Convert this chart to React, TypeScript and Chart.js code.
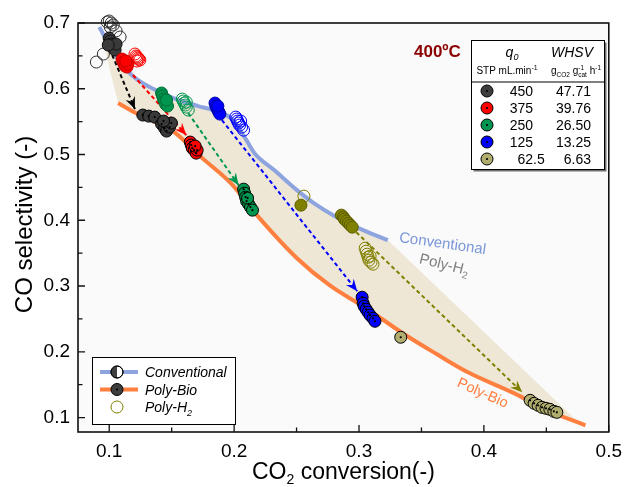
import React, { useEffect, useRef } from 'react';
import { Chart, registerables } from 'chart.js';

Chart.register(...registerables);

const FONT = '"Liberation Sans", Arial, Helvetica, sans-serif';

// ---- axes ----
const xRange = [0.075, 0.5];
const yRange = [0.078, 0.7];
const xMajorTicks = [0.1, 0.2, 0.3, 0.4, 0.5];
const xMinorTicks = [0.15, 0.25, 0.35, 0.45];
const yMajorTicks = [0.1, 0.2, 0.3, 0.4, 0.5, 0.6, 0.7];
const yMinorTicks = [0.15, 0.25, 0.35, 0.45, 0.55, 0.65];

// ---- trend curves ----
const conventionalCurve = [
  [0.0921, 0.6939], [0.1, 0.6665], [0.1095, 0.6391], [0.1198, 0.6178], [0.1372, 0.598],
  [0.1554, 0.5828], [0.1712, 0.5737], [0.1831, 0.5676], [0.1973, 0.5554], [0.2084, 0.5265],
  [0.2163, 0.5021], [0.2321, 0.4763], [0.2503, 0.4458], [0.2638, 0.426], [0.282, 0.4047],
  [0.3033, 0.3849], [0.3231, 0.3697],
];
const polyBioCurve = [
  [0.1071, 0.5782], [0.1214, 0.563], [0.1372, 0.5493], [0.153, 0.5326], [0.1736, 0.496],
  [0.1973, 0.4565], [0.2203, 0.4032], [0.2503, 0.3423], [0.2764, 0.3012], [0.3081, 0.2632],
  [0.335, 0.2282], [0.3611, 0.1977], [0.3872, 0.1688], [0.4244, 0.1368], [0.4505, 0.111],
  [0.4813, 0.0882],
];
const envelopeCorner = [0.4742, 0.0955];

// ---- 450 mL/min ----
const conv450 = [[0.1, 0.677], [0.1008, 0.6726], [0.1016, 0.668], [0.1024, 0.665], [0.1032, 0.6619], [0.1047, 0.6589], [0.1055, 0.668], [0.0992, 0.6665]];
const polyH2_450 = [[0.0984, 0.7015], [0.1, 0.703], [0.1016, 0.7], [0.1032, 0.697], [0.1008, 0.694], [0.1055, 0.688], [0.1087, 0.6787], [0.0953, 0.6528], [0.0897, 0.6406]];
const polyBio450 = [[0.1269, 0.56], [0.1316, 0.5584], [0.1364, 0.5569], [0.1419, 0.5463], [0.1443, 0.5402], [0.1459, 0.5356], [0.1483, 0.5417], [0.1498, 0.5478], [0.1435, 0.5508]];
// ---- 375 ----
const conv375 = [[0.1103, 0.6452], [0.1111, 0.6406], [0.1119, 0.6376], [0.1127, 0.6346], [0.1142, 0.633], [0.115, 0.6376], [0.1134, 0.6422]];
const polyH2_375 = [[0.1206, 0.6528], [0.1214, 0.6498], [0.1222, 0.6483], [0.123, 0.6467], [0.1237, 0.6452], [0.1245, 0.6437], [0.1222, 0.6422]];
const polyBio375 = [[0.1649, 0.5189], [0.1657, 0.5143], [0.1665, 0.5097], [0.168, 0.5067], [0.1696, 0.5021], [0.1704, 0.5067], [0.1688, 0.5128]];
// ---- 250 ----
const conv250 = [[0.1419, 0.5935], [0.1427, 0.5889], [0.1435, 0.5843], [0.1443, 0.5813], [0.1451, 0.5767], [0.1467, 0.5737], [0.1459, 0.5828]];
const polyH2_250 = [[0.1585, 0.5843], [0.1593, 0.5813], [0.1601, 0.5782], [0.1609, 0.5752], [0.1617, 0.5721], [0.1633, 0.5676], [0.1617, 0.5798]];
const polyBio250 = [[0.2076, 0.4473], [0.2084, 0.4413], [0.2092, 0.4352], [0.21, 0.4291], [0.2116, 0.4245], [0.2131, 0.42], [0.2147, 0.4154], [0.2108, 0.4337]];
// ---- 125 ----
const conv125 = [[0.1847, 0.5782], [0.1854, 0.5737], [0.1862, 0.5706], [0.187, 0.5676], [0.1878, 0.5645], [0.1886, 0.5615], [0.187, 0.5737]];
const polyH2_125 = [[0.2013, 0.5569], [0.2021, 0.5539], [0.2028, 0.5508], [0.2036, 0.5478], [0.2044, 0.5447], [0.206, 0.5417], [0.2076, 0.5371], [0.2052, 0.5508]];
const polyBio125 = [[0.3025, 0.283], [0.3033, 0.2738], [0.3041, 0.2693], [0.3057, 0.2647], [0.3073, 0.2601], [0.3089, 0.2556], [0.3112, 0.251], [0.3128, 0.2464]];
// ---- 62.5 ----
const conv62 = [[0.2535, 0.423], [0.2859, 0.4078], [0.2875, 0.4047], [0.2883, 0.4017], [0.2899, 0.3986], [0.2915, 0.3956], [0.293, 0.3925], [0.2946, 0.3895]];
const polyH2_62 = [[0.2559, 0.4367], [0.3049, 0.3575], [0.3057, 0.353], [0.3065, 0.3484], [0.3073, 0.3438], [0.308, 0.3393], [0.3096, 0.3362], [0.3112, 0.3332], [0.3089, 0.3454]];
const polyBio62 = [[0.3334, 0.2221], [0.437, 0.1262], [0.4402, 0.1216], [0.4434, 0.1186], [0.4465, 0.1155], [0.4497, 0.114], [0.4528, 0.1125], [0.456, 0.1094], [0.4584, 0.1079]];

// ---- dashed arrows (start, tip) ----
const arrow450 = [[0.1024, 0.6513], [0.1206, 0.5691]];
const arrow375 = [[0.119, 0.6209], [0.1617, 0.5295]];
const arrow250 = [[0.1633, 0.563], [0.2036, 0.4534]];
const arrow125 = [[0.1902, 0.5524], [0.2986, 0.2921]];
const arrow62 = [[0.2978, 0.3819], [0.4307, 0.1383]];

// ---- legend table ----
const legendFlows = ['450', '375', '250', '125', '62.5'];
const legendWhsv = ['47.71', '39.76', '26.50', '13.25', '6.63'];
const legendFill = ['#3d3d3d', '#ff0000', '#00964f', '#0000ff', '#b0ad6e'];

const C_BLUE = '#8da4de';
const C_ORANGE = '#ff7f3f';

const pts = (a: number[][]) => a.map(([x, y]) => ({ x, y }));

function curveDs(data: number[][], color: string) {
  return {
    data: pts(data), showLine: true, borderColor: color, backgroundColor: color, borderWidth: 4,
    pointRadius: 0, cubicInterpolationMode: 'monotone', fill: false, order: 50,
  };
}
function arrowDs(data: number[][], color: string) {
  return {
    data: pts(data), showLine: true, borderColor: color, backgroundColor: color, borderWidth: 2,
    borderDash: [4, 3], pointRadius: 0, order: 40, arrow: true, clip: false,
  };
}
function pointDs(data: number[][], fill: string, border: string, order: number, dotted = false) {
  return {
    data: pts(data), showLine: false, pointRadius: 6, pointBorderWidth: 1,
    pointBackgroundColor: fill, pointBorderColor: border, backgroundColor: fill, borderColor: border,
    order, clip: false, dotted,
  };
}

type Part = { t: string; size: number; dy?: number; italic?: boolean; bold?: boolean; noAdvance?: boolean };
const fontOf = (p: Part) => `${p.italic ? 'italic ' : ''}${p.bold ? 'bold ' : ''}${p.size}px ${FONT}`;
function drawRich(ctx: CanvasRenderingContext2D, parts: Part[], x: number, y: number, align: string, color: string) {
  let w = 0;
  for (const p of parts) {
    ctx.font = fontOf(p);
    if (!p.noAdvance) w += ctx.measureText(p.t).width;
  }
  let cx = align === 'center' ? x - w / 2 : align === 'right' ? x - w : x;
  ctx.textAlign = 'left';
  ctx.textBaseline = 'alphabetic';
  ctx.fillStyle = color;
  for (const p of parts) {
    ctx.font = fontOf(p);
    ctx.fillText(p.t, cx, y + (p.dy || 0));
    if (!p.noAdvance) cx += ctx.measureText(p.t).width;
  }
}
function rotatedText(ctx: CanvasRenderingContext2D, parts: Part[], x: number, y: number, deg: number, color: string) {
  ctx.save();
  ctx.translate(x, y);
  ctx.rotate((deg * Math.PI) / 180);
  drawRich(ctx, parts, 0, 0, 'center', color);
  ctx.restore();
}
function circle(ctx: CanvasRenderingContext2D, x: number, y: number, r: number, fill: string | null, stroke: string, dot = false) {
  ctx.beginPath();
  ctx.arc(x, y, r, 0, Math.PI * 2);
  if (fill) { ctx.fillStyle = fill; ctx.fill(); }
  ctx.lineWidth = 1;
  ctx.strokeStyle = stroke;
  ctx.stroke();
  if (dot) {
    ctx.beginPath();
    ctx.arc(x, y, 1.1, 0, Math.PI * 2);
    ctx.fillStyle = '#000';
    ctx.fill();
  }
}

const customPlugin = {
  id: 'customDraw',
  beforeDraw(chart: any) {
    const { ctx, chartArea: a } = chart;
    ctx.save();
    ctx.fillStyle = '#ffffff';
    ctx.fillRect(0, 0, chart.width, chart.height);
    ctx.fillStyle = '#fafafa';
    ctx.fillRect(a.left, a.top, a.right - a.left, a.bottom - a.top);
    ctx.restore();
  },
  beforeDatasetsDraw(chart: any) {
    const { ctx } = chart;
    const xs = chart.scales.x, ys = chart.scales.y;
    const poly = [
      ...conventionalCurve,
      envelopeCorner,
      ...polyBioCurve.filter((p) => p[0] < envelopeCorner[0]).reverse(),
    ];
    ctx.save();
    ctx.beginPath();
    poly.forEach((p, i) => {
      const px = xs.getPixelForValue(p[0]), py = ys.getPixelForValue(p[1]);
      if (i === 0) ctx.moveTo(px, py); else ctx.lineTo(px, py);
    });
    ctx.closePath();
    ctx.fillStyle = '#eee7d6';
    ctx.fill();
    ctx.restore();
  },
  afterDatasetDraw(chart: any, args: any) {
    const ds = chart.data.datasets[args.index];
    const { ctx } = chart;
    const els = args.meta.data;
    ctx.save();
    if (ds.arrow && els.length >= 2) {
      const p1 = els[0], p2 = els[els.length - 1];
      const dx = p2.x - p1.x, dy = p2.y - p1.y, len = Math.hypot(dx, dy);
      const ux = dx / len, uy = dy / len, nx = -uy, ny = ux;
      const L = 12, W = 5, N = 4;
      ctx.beginPath();
      ctx.moveTo(p2.x, p2.y);
      ctx.lineTo(p2.x - L * ux + W * nx, p2.y - L * uy + W * ny);
      ctx.lineTo(p2.x - (L - N) * ux, p2.y - (L - N) * uy);
      ctx.lineTo(p2.x - L * ux - W * nx, p2.y - L * uy - W * ny);
      ctx.closePath();
      ctx.fillStyle = ds.borderColor;
      ctx.fill();
    }
    if (ds.dotted) {
      ctx.fillStyle = '#000';
      for (const el of els) {
        ctx.beginPath();
        ctx.arc(el.x, el.y, 1.1, 0, Math.PI * 2);
        ctx.fill();
      }
    }
    ctx.restore();
  },
  afterDraw(chart: any) {
    const { ctx, chartArea: a } = chart;
    const xs = chart.scales.x, ys = chart.scales.y;
    ctx.save();
    // frame
    ctx.strokeStyle = '#111';
    ctx.lineWidth = 1.6;
    ctx.strokeRect(a.left, a.top, a.right - a.left, a.bottom - a.top);
    // inward ticks
    ctx.lineWidth = 1.3;
    ctx.beginPath();
    xMajorTicks.forEach((v) => { const px = xs.getPixelForValue(v); ctx.moveTo(px, a.bottom); ctx.lineTo(px, a.bottom - 7); });
    xMinorTicks.forEach((v) => { const px = xs.getPixelForValue(v); ctx.moveTo(px, a.bottom); ctx.lineTo(px, a.bottom - 4.5); });
    yMajorTicks.forEach((v) => { const py = ys.getPixelForValue(v); ctx.moveTo(a.left, py); ctx.lineTo(a.left + 7, py); });
    yMinorTicks.forEach((v) => { const py = ys.getPixelForValue(v); ctx.moveTo(a.left, py); ctx.lineTo(a.left + 4.5, py); });
    ctx.stroke();

    // axis titles
    drawRich(ctx, [
      { t: 'CO', size: 23 }, { t: '2', size: 14, dy: 5 }, { t: ' conversion(-)', size: 23 },
    ], (a.left + a.right) / 2, 479, 'center', '#000');
    ctx.save();
    ctx.translate(32, (a.top + a.bottom) / 2 - 3);
    ctx.rotate(-Math.PI / 2);
    drawRich(ctx, [{ t: 'CO selectivity (-)', size: 24 }], 0, 0, 'center', '#000');
    ctx.restore();

    // in-plot annotations
    rotatedText(ctx, [{ t: 'Conventional', size: 15 }], 442, 248, 8, '#7b97d8');
    rotatedText(ctx, [{ t: 'Poly-H', size: 15 }, { t: '2', size: 10, dy: 4 }], 443, 269, 14, '#808080');
    rotatedText(ctx, [{ t: 'Poly-Bio', size: 14.5 }], 481, 397, 24, C_ORANGE);

    // 400ºC
    drawRich(ctx, [{ t: '400ºC', size: 17, bold: true }], 414, 57, 'left', '#8b0000');

    // legend table (top-right)
    const bx = 471, by = 40, bw = 133, bh = 129;
    ctx.fillStyle = '#707070';
    ctx.fillRect(bx + 2.5, by + 2.5, bw, bh);
    ctx.fillStyle = '#ffffff';
    ctx.fillRect(bx, by, bw, bh);
    ctx.strokeStyle = '#000';
    ctx.lineWidth = 1;
    ctx.strokeRect(bx + 0.5, by + 0.5, bw, bh);
    ctx.beginPath();
    ctx.moveTo(bx, 82);
    ctx.lineTo(bx + bw, 82);
    ctx.stroke();
    drawRich(ctx, [{ t: 'q', size: 14, italic: true }, { t: '0', size: 9, italic: true, dy: 3 }], 512, 57, 'center', '#000');
    drawRich(ctx, [{ t: 'WHSV', size: 14, italic: true }], 572, 57, 'center', '#000');
    drawRich(ctx, [{ t: 'STP mL.min', size: 10 }, { t: '-1', size: 7, dy: -4 }], 507, 74, 'center', '#000');
    drawRich(ctx, [
      { t: 'g', size: 10 }, { t: 'CO2', size: 6.5, dy: 2.5 }, { t: ' g', size: 10 },
      { t: '-1', size: 6.5, dy: -4, noAdvance: true }, { t: 'cat', size: 6.5, dy: 2.5 },
      { t: ' h', size: 10 }, { t: '-1', size: 6.5, dy: -4 },
    ], 576, 74, 'center', '#000');
    legendFlows.forEach((f, i) => {
      const ry = 91 + i * 17;
      circle(ctx, 487, ry, 6, legendFill[i], '#000', true);
      const [ip, fp] = f.split('.');
      drawRich(ctx, [{ t: ip, size: 14 }], 533, ry + 5, 'right', '#000');
      if (fp) drawRich(ctx, [{ t: '.' + fp, size: 14 }], 533, ry + 5, 'left', '#000');
      drawRich(ctx, [{ t: legendWhsv[i], size: 14 }], 591, ry + 5, 'right', '#000');
    });

    // legend (bottom-left)
    const lx = 92, ly = 357, lw = 143, lh = 67;
    ctx.fillStyle = '#ffffff';
    ctx.fillRect(lx, ly, lw, lh);
    ctx.strokeStyle = '#000';
    ctx.lineWidth = 1;
    ctx.strokeRect(lx + 0.5, ly + 0.5, lw, lh);
    const rows = [372, 389.5, 407];
    // conventional
    ctx.strokeStyle = C_BLUE; ctx.lineWidth = 4;
    ctx.beginPath(); ctx.moveTo(100, rows[0]); ctx.lineTo(138, rows[0]); ctx.stroke();
    circle(ctx, 117, rows[0], 6, '#ffffff', '#000');
    ctx.beginPath(); ctx.arc(117, rows[0], 6, Math.PI / 2, (3 * Math.PI) / 2); ctx.closePath();
    ctx.fillStyle = '#404040'; ctx.fill();
    circle(ctx, 117, rows[0], 6, null, '#000');
    // poly-bio
    ctx.strokeStyle = C_ORANGE; ctx.lineWidth = 4;
    ctx.beginPath(); ctx.moveTo(100, rows[1]); ctx.lineTo(138, rows[1]); ctx.stroke();
    circle(ctx, 117, rows[1], 6, '#3d3d3d', '#000', true);
    // poly-h2
    circle(ctx, 117, rows[2], 6, null, '#808000');
    drawRich(ctx, [{ t: 'Conventional', size: 14, italic: true }], 145, rows[0] + 5, 'left', '#000');
    drawRich(ctx, [{ t: 'Poly-Bio', size: 14, italic: true }], 145, rows[1] + 5, 'left', '#000');
    drawRich(ctx, [{ t: 'Poly-H', size: 14, italic: true }, { t: '2', size: 9, italic: true, dy: 3.5 }], 145, rows[2] + 5, 'left', '#000');
    ctx.restore();
  },
};

export default function App() {
  const canvasRef = useRef<HTMLCanvasElement | null>(null);
  useEffect(() => {
    document.body.style.margin = '0';
    const canvas = canvasRef.current;
    if (!canvas) return;
    const datasets: any[] = [
      curveDs(conventionalCurve, C_BLUE),
      curveDs(polyBioCurve, C_ORANGE),
      arrowDs(arrow450, '#000000'),
      arrowDs(arrow375, '#ff0000'),
      arrowDs(arrow250, '#00964f'),
      arrowDs(arrow125, '#0000ff'),
      arrowDs(arrow62, '#808000'),
      pointDs(polyH2_450, 'rgba(0,0,0,0)', '#333333', 30),
      pointDs(conv450, '#3a3a3a', '#111111', 29),
      pointDs(polyH2_375, 'rgba(0,0,0,0)', '#ff0000', 28),
      pointDs(conv375, '#ff0000', '#c80000', 27),
      pointDs(polyH2_250, 'rgba(0,0,0,0)', '#00964f', 26),
      pointDs(conv250, '#00964f', '#006e38', 25),
      pointDs(polyH2_125, 'rgba(0,0,0,0)', '#0000ff', 24),
      pointDs(conv125, '#0000ff', '#0000a8', 23),
      pointDs(polyH2_62, 'rgba(0,0,0,0)', '#808000', 22),
      pointDs(conv62, '#808000', '#5e5e00', 21),
      pointDs(polyBio450, '#3a3a3a', '#000000', 10, true),
      pointDs(polyBio375, '#ff0000', '#000000', 9, true),
      pointDs(polyBio250, '#00964f', '#000000', 8, true),
      pointDs(polyBio125, '#0000ff', '#000000', 7, true),
      pointDs(polyBio62, '#b0ad6e', '#000000', 6, true),
    ];
    const chart = new Chart(canvas, {
      type: 'scatter',
      data: { datasets },
      options: {
        responsive: false,
        animation: false,
        events: [],
        layout: { padding: { left: 0, right: 14, top: 23, bottom: 0 } },
        plugins: { legend: { display: false }, tooltip: { enabled: false }, title: { display: false } },
        scales: {
          x: {
            type: 'linear', min: xRange[0], max: xRange[1],
            grid: { display: false, drawTicks: false, tickLength: 0 },
            border: { display: false },
            afterBuildTicks: (s: any) => { s.ticks = xMajorTicks.map((v) => ({ value: v })); },
            afterFit: (s: any) => { s.height = 55; },
            ticks: {
              font: { size: 19, family: FONT }, color: '#000', padding: 8, maxRotation: 0, autoSkip: false,
              callback: (v: any) => Number(v).toFixed(1),
            },
          },
          y: {
            type: 'linear', min: yRange[0], max: yRange[1],
            grid: { display: false, drawTicks: false, tickLength: 0 },
            border: { display: false },
            afterBuildTicks: (s: any) => { s.ticks = yMajorTicks.map((v) => ({ value: v })); },
            afterFit: (s: any) => { s.width = 78; },
            ticks: {
              font: { size: 19, family: FONT }, color: '#000', padding: 8, autoSkip: false,
              callback: (v: any) => Number(v).toFixed(1),
            },
          },
        },
      } as any,
      plugins: [customPlugin],
    });
    return () => chart.destroy();
  }, []);
  return (
    <div style={{ position: 'absolute', left: 0, top: 0, width: 630, height: 487 }}>
      <canvas ref={canvasRef} width={630} height={487} style={{ display: 'block' }} />
    </div>
  );
}
